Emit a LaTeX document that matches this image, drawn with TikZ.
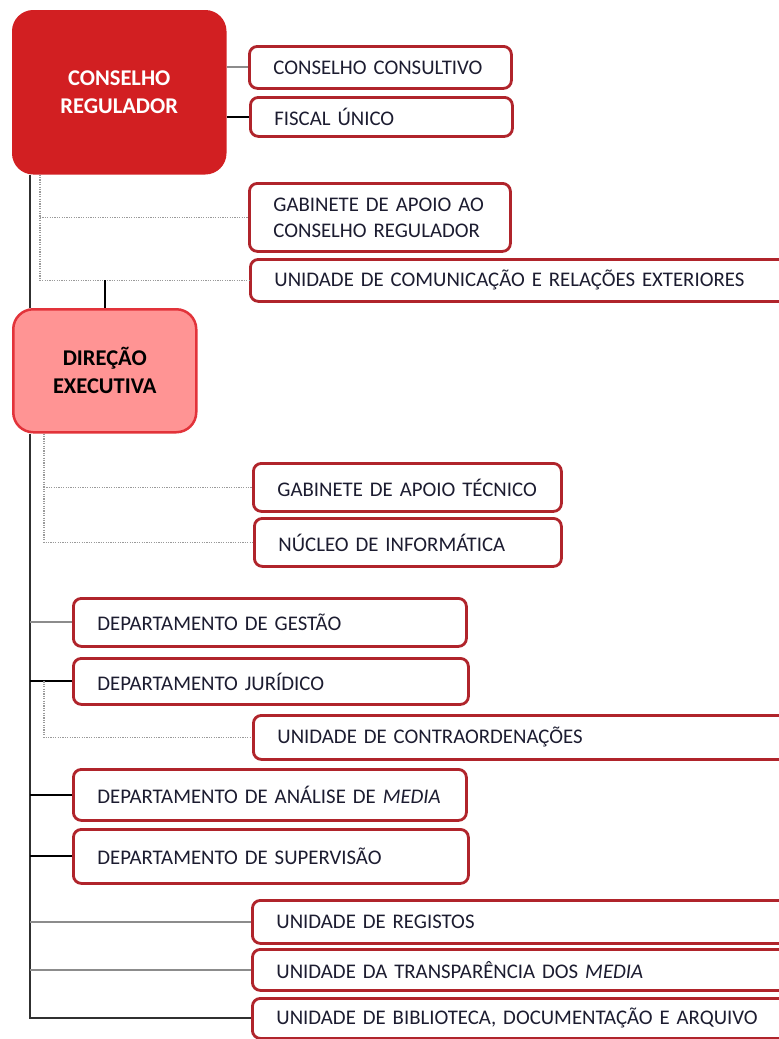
\documentclass[tikz,border=0pt]{standalone}
\usepackage{fontspec}
\setmainfont{Carlito}
\definecolor{crred}{HTML}{D21F22}
\definecolor{dered}{HTML}{FF9494}
\definecolor{deedge}{HTML}{E2333A}
\definecolor{edge}{HTML}{B0242B}
\definecolor{ink}{HTML}{1C1C30}
\definecolor{lgray}{HTML}{8C8C8C}
\definecolor{dgray}{HTML}{303030}
\definecolor{dotc}{HTML}{9A9A9A}
\tikzset{
  unitbox/.style={draw=edge, line width=2.8pt, rounded corners=8pt, fill=white,
    anchor=north west, inner xsep=24pt, inner ysep=2pt, align=left,
    font=\fontsize{20.8}{26}\selectfont, text=ink},
  headbox/.style={line width=2.5pt, rounded corners=20pt, anchor=north west,
    align=center, inner sep=0pt, font=\bfseries\fontsize{22.5}{28}\selectfont},
  lk/.style={line width=2pt, draw=black},
  trunkline/.style={line width=2pt, draw=dgray},
  dt/.style={line width=1.6pt, draw=dotc, dash pattern=on 1.2pt off 1.2pt}
}
\begin{document}
\begin{tikzpicture}[x=1pt,y=-1pt]
\path[use as bounding box] (0,0) rectangle (779,1039);
\fill[white] (0,0) rectangle (779,1039);
\clip (0,0) rectangle (779,1039);

\node[headbox, fill=crred, draw=crred, text=white, minimum width=212pt, minimum height=162pt] (CR) at (12,10) {CONSELHO\\REGULADOR};
\node[headbox, fill=dered, draw=deedge, text=black, minimum width=183pt, minimum height=123pt] (DE) at (12,308) {DIREÇÃO\\EXECUTIVA};

\node[unitbox, minimum width=262pt, minimum height=42pt, text width=214pt] (CC) at (248,45) {\mbox{CONSELHO CONSULTIVO}};
\node[unitbox, minimum width=262pt, minimum height=39pt, text width=214pt] (FU) at (249,96) {\mbox{FISCAL ÚNICO}};
\node[unitbox, minimum width=261pt, minimum height=68pt, text width=213pt] (GA) at (248,182) {\mbox{GABINETE DE APOIO AO}\\\mbox{CONSELHO REGULADOR}};
\node[unitbox, minimum width=551pt, minimum height=42pt, text width=503pt] (UC) at (249,258) {\mbox{UNIDADE DE COMUNICAÇÃO E RELAÇÕES EXTERIORES}};

\node[unitbox, minimum width=308pt, minimum height=48pt, text width=260pt] (GAT) at (252,462) {\mbox{GABINETE DE APOIO TÉCNICO}};
\node[unitbox, minimum width=307pt, minimum height=48pt, text width=259pt] (NI) at (253,517) {\mbox{NÚCLEO DE INFORMÁTICA}};

\node[unitbox, minimum width=393pt, minimum height=48pt, text width=345pt] (DG) at (72,597) {\mbox{DEPARTAMENTO DE GESTÃO}};
\node[unitbox, minimum width=395pt, minimum height=46pt, text width=347pt] (DJ) at (72,657) {\mbox{DEPARTAMENTO JURÍDICO}};
\node[unitbox, minimum width=548pt, minimum height=44pt, text width=500pt] (UCO) at (252,714) {\mbox{UNIDADE DE CONTRAORDENAÇÕES}};
\node[unitbox, minimum width=393pt, minimum height=51pt, text width=345pt] (DAM) at (72,768) {\mbox{DEPARTAMENTO DE ANÁLISE DE \textit{MEDIA}}};
\node[unitbox, minimum width=395pt, minimum height=54pt, text width=347pt] (DS) at (72,828) {\mbox{DEPARTAMENTO DE SUPERVISÃO}};

\node[unitbox, minimum width=549pt, minimum height=43pt, text width=501pt] (UR) at (251,899) {\mbox{UNIDADE DE REGISTOS}};
\node[unitbox, minimum width=549pt, minimum height=41pt, text width=501pt] (UTM) at (251,948) {\mbox{UNIDADE DA TRANSPARÊNCIA DOS \textit{MEDIA}}};
\node[unitbox, minimum width=549pt, minimum height=40pt, text width=501pt] (UBDA) at (251,997) {\mbox{UNIDADE DE BIBLIOTECA, DOCUMENTAÇÃO E ARQUIVO}};

\coordinate (tr) at (30,0);
\coordinate (d1) at (40,0);
\coordinate (d2) at (44,0);

\draw[trunkline] (CR.south -| tr) -- (DE.north -| tr);
\draw[trunkline] (DE.south -| tr) -- (UBDA.west -| tr) -- (UBDA.west);
\draw[lk, lgray] (CC.west -| CR.east) -- (CC.west);
\draw[lk] (FU.west -| CR.east) -- (FU.west);
\draw[dt] (CR.south -| d1) -- (UC.west -| d1) -- (UC.west);
\draw[dt] (GA.west -| d1) -- (GA.west);
\draw[lk] (UC.west -| DE.north) -- (DE.north);
\draw[dt] (DE.south -| d2) -- (NI.west -| d2) -- (NI.west);
\draw[dt] (GAT.west -| d2) -- (GAT.west);
\draw[lk, lgray] (DG.west -| tr) -- (DG.west);
\draw[lk] (DJ.west -| tr) -- (DJ.west);
\draw[dt] (DJ.west -| d2) -- (UCO.west -| d2) -- (UCO.west);
\draw[lk] (DAM.west -| tr) -- (DAM.west);
\draw[lk] (DS.west -| tr) -- (DS.west);
\draw[lk, lgray] (UR.west -| tr) -- (UR.west);
\draw[lk, lgray] (UTM.west -| tr) -- (UTM.west);
\end{tikzpicture}
\end{document}
